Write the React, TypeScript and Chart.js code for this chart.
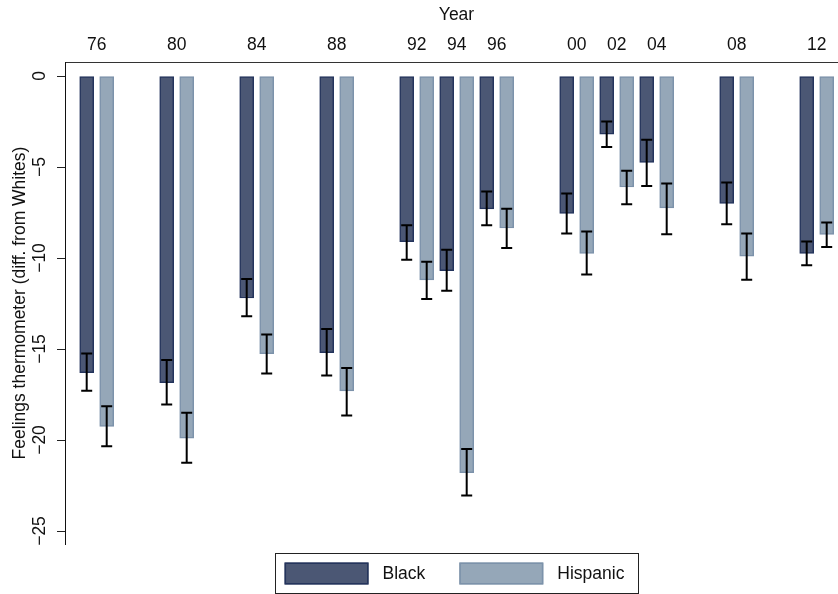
import React, { useEffect, useRef } from "react";
import { Chart, registerables } from "chart.js";

Chart.register(...registerables);

const years = [1976, 1980, 1984, 1988, 1992, 1994, 1996, 2000, 2002, 2004, 2008, 2012];
const yearLabels = ["76", "80", "84", "88", "92", "94", "96", "00", "02", "04", "08", "12"];

const blackMean = [-16.3, -16.85, -12.2, -15.2, -9.1, -10.7, -7.3, -7.55, -3.2, -4.75, -7.0, -9.75];
const blackUpper = [-15.25, -15.6, -11.15, -13.9, -8.2, -9.55, -6.35, -6.45, -2.5, -3.5, -5.85, -9.1];
const blackLower = [-17.3, -18.05, -13.2, -16.45, -10.1, -11.8, -8.2, -8.65, -3.9, -6.05, -8.15, -10.4];

const hispMean = [-19.25, -19.9, -15.25, -17.3, -11.2, -21.8, -8.35, -9.75, -6.1, -7.25, -9.9, -8.7];
const hispUpper = [-18.15, -18.5, -14.2, -16.05, -10.2, -20.5, -7.3, -8.55, -5.2, -5.9, -8.65, -8.05];
const hispLower = [-20.35, -21.25, -16.35, -18.65, -12.25, -23.05, -9.45, -10.9, -7.05, -8.7, -11.2, -9.4];

const yTicks = [0, -5, -10, -15, -20, -25];

const FONT = "'Liberation Sans', Arial, Helvetica, sans-serif";
const FS = 17.5;

const errorBars = {
  id: "errorBars",
  afterDatasetsDraw(chart: any) {
    const ctx = chart.ctx;
    const yScale = chart.scales.y;
    ctx.save();
    ctx.strokeStyle = "#000";
    ctx.lineWidth = 2;
    chart.data.datasets.forEach((ds: any, di: number) => {
      const meta = chart.getDatasetMeta(di);
      meta.data.forEach((el: any, i: number) => {
        const x = el.x;
        const yt = yScale.getPixelForValue(ds.ciUpper[i]);
        const yb = yScale.getPixelForValue(ds.ciLower[i]);
        const hw = 5.5;
        ctx.beginPath();
        ctx.moveTo(x, yt);
        ctx.lineTo(x, yb);
        ctx.moveTo(x - hw, yt);
        ctx.lineTo(x + hw, yt);
        ctx.moveTo(x - hw, yb);
        ctx.lineTo(x + hw, yb);
        ctx.stroke();
      });
    });
    ctx.restore();
  },
};

const framedLegend = {
  id: "framedLegend",
  afterDraw(chart: any) {
    const ctx = chart.ctx;
    const area = chart.chartArea;
    const cx = (area.left + area.right) / 2;
    const sw = 84, sh = 22, gapText = 14, gapItem = 34, padL = 9.5, padR = 13.5;
    ctx.save();
    ctx.font = `${FS}px ${FONT}`;
    const items = chart.data.datasets.map((ds: any) => ({
      label: ds.label,
      fill: ds.backgroundColor,
      stroke: ds.borderColor,
      w: ctx.measureText(ds.label).width,
    }));
    let total = padL + padR;
    items.forEach((it: any, i: number) => {
      total += sw + gapText + it.w + (i < items.length - 1 ? gapItem : 0);
    });
    const left = cx - total / 2;
    const top = 553.5;
    const h = 40;
    ctx.strokeStyle = "#222";
    ctx.lineWidth = 1;
    ctx.strokeRect(Math.round(left) + 0.5, top, Math.round(total), h);
    let x = left + padL;
    const sy = top + 9;
    items.forEach((it: any) => {
      ctx.fillStyle = it.fill;
      ctx.fillRect(x, sy, sw, sh);
      ctx.strokeStyle = it.stroke;
      ctx.lineWidth = 1.5;
      ctx.strokeRect(x + 0.75, sy + 0.75, sw - 1.5, sh - 1.5);
      ctx.fillStyle = "#111";
      ctx.textBaseline = "middle";
      ctx.textAlign = "left";
      ctx.fillText(it.label, x + sw + gapText, sy + sh / 2 + 0.5);
      x += sw + gapText + it.w + gapItem;
    });
    ctx.restore();
  },
};

export default function App() {
  const ref = useRef<HTMLCanvasElement | null>(null);

  useEffect(() => {
    if (!ref.current) return;
    const chart = new Chart(ref.current, {
      type: "bar",
      data: {
        datasets: [
          {
            label: "Black",
            data: years.map((yr, i) => ({ x: yr - 0.5, y: blackMean[i] })),
            backgroundColor: "rgb(75,87,116)",
            borderColor: "rgb(36,52,92)",
            borderWidth: 1.5,
            borderSkipped: false,
            ciUpper: blackUpper,
            ciLower: blackLower,
          } as any,
          {
            label: "Hispanic",
            data: years.map((yr, i) => ({ x: yr + 0.5, y: hispMean[i] })),
            backgroundColor: "rgb(149,167,184)",
            borderColor: "rgb(124,146,170)",
            borderWidth: 1.5,
            borderSkipped: false,
            ciUpper: hispUpper,
            ciLower: hispLower,
          } as any,
        ],
      },
      options: {
        animation: false,
        responsive: false,
        devicePixelRatio: 1,
        grouped: false,
        barThickness: 14,
        layout: { padding: { left: 0, right: 0, top: 0, bottom: 50 } },
        plugins: {
          legend: { display: false },
          tooltip: { enabled: false },
        },
        scales: {
          x: {
            type: "linear",
            position: "top",
            offset: false,
            min: 1976 - (96.7 - 65) / 20,
            max: 1976 + (848 - 96.7) / 20,
            afterBuildTicks: (scale: any) => {
              scale.ticks = years.map((v) => ({ value: v }));
            },
            afterFit: (scale: any) => {
              scale.height = 62;
            },
            ticks: {
              autoSkip: false,
              maxRotation: 0,
              minRotation: 0,
              padding: 6,
              color: "#111",
              font: { family: FONT, size: FS },
              callback: (v: any) => yearLabels[years.indexOf(Number(v))],
            },
            grid: { display: true, drawOnChartArea: false, drawTicks: false, offset: false },
            border: { display: true, color: "#333", width: 1 },
            title: {
              display: true,
              text: "Year",
              color: "#111",
              font: { family: FONT, size: FS },
              padding: { top: 5, bottom: 0 },
            },
          },
          y: {
            type: "linear",
            min: -468 / 18.2,
            max: 14 / 18.2,
            afterBuildTicks: (scale: any) => {
              scale.ticks = yTicks.map((v) => ({ value: v }));
            },
            afterFit: (scale: any) => {
              scale.width = 65;
            },
            ticks: {
              minRotation: 90,
              maxRotation: 90,
              crossAlign: "center",
              padding: 2,
              color: "#111",
              font: { family: FONT, size: FS },
              callback: (v: any) => (Number(v) < 0 ? "\u2212" + Math.abs(Number(v)) : String(v)),
            },
            grid: { display: true, drawOnChartArea: false, drawTicks: true, tickLength: 8, color: "#222", lineWidth: 1 },
            border: { display: true, color: "#111", width: 1 },
            title: {
              display: true,
              text: "Feelings thermometer (diff. from Whites)",
              color: "#111",
              font: { family: FONT, size: FS },
              padding: { top: 10, bottom: 0 },
            },
          },
        },
      } as any,
      plugins: [errorBars, framedLegend],
    });
    return () => chart.destroy();
  }, []);

  return (
    <div style={{ position: "absolute", left: 0, top: 0, width: 838, height: 594, overflow: "hidden", background: "#fff" }}>
      <canvas ref={ref} width={848} height={594} style={{ width: 848, height: 594, display: "block" }} />
    </div>
  );
}
